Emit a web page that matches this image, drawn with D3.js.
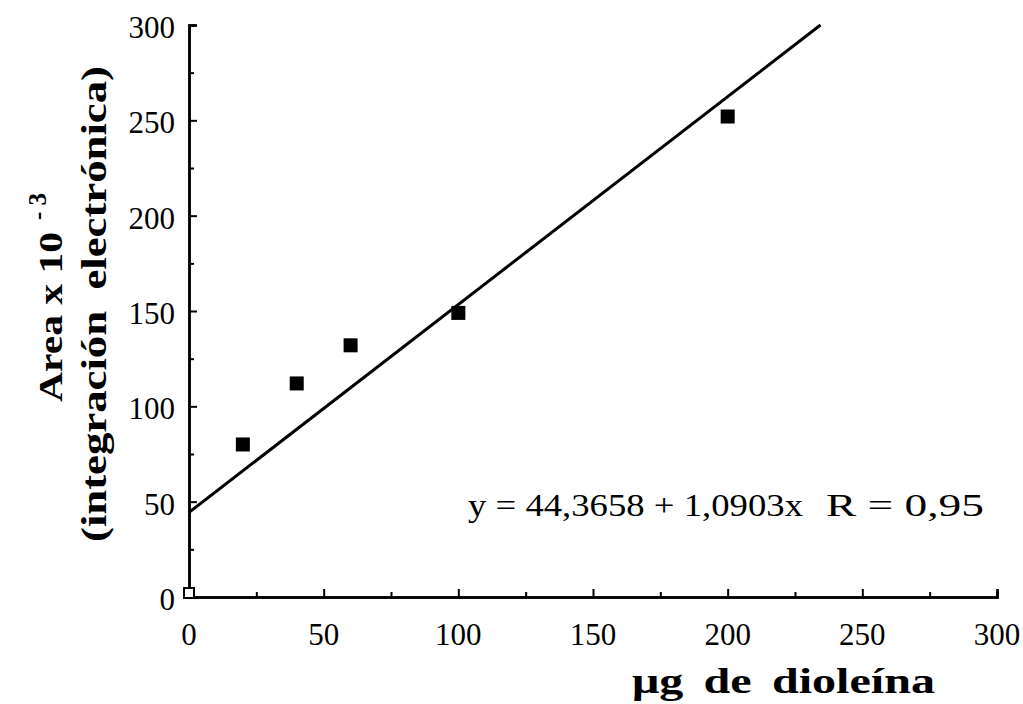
<!DOCTYPE html>
<html><head><meta charset="utf-8">
<script src="https://cdn.jsdelivr.net/npm/d3@7"></script>
<style>body{margin:0;background:#fff}svg{display:block}</style>
</head><body>
<svg id="c" width="1023" height="704"></svg>
<script>
const xData = [20, 40, 60, 100, 200];
const yData = [80, 112, 132, 149, 252];
const originPoint = [0, 0];
const intercept = 44.3658, slope = 1.0903;
const majorTicks = [0, 50, 100, 150, 200, 250, 300];
const minorTicks = [25, 75, 125, 175, 225, 275];
const eqText = "y = 44,3658 + 1,0903x";
const rText = "R = 0,95";

const svg = d3.select("#c");
const font = "'Liberation Serif','Times New Roman',serif";
const x = d3.scaleLinear().domain([0, 300]).range([189, 997]);
const y = d3.scaleLinear().domain([0, 300]).range([597, 25]);

// axes
const gx = svg.append("g").attr("transform", `translate(0,${y(0)})`);
gx.call(d3.axisTop(x).tickValues(majorTicks).tickSize(8).tickFormat(""));
gx.append("g").call(d3.axisTop(x).tickValues(minorTicks).tickSize(5).tickFormat(""));
gx.selectAll("path.domain").attr("stroke-width", 2.5);
gx.selectAll(".tick line").attr("stroke-width", 2);
majorTicks.forEach(v => {
  svg.append("text").attr("x", x(v)).attr("y", 645).attr("text-anchor", "middle")
    .attr("font-family", font).attr("font-size", 31).text(v);
});

const gy = svg.append("g").attr("transform", `translate(${x(0)},0)`);
gy.call(d3.axisRight(y).tickValues(majorTicks).tickSize(8).tickFormat(""));
gy.append("g").call(d3.axisRight(y).tickValues(minorTicks).tickSize(5).tickFormat(""));
gy.selectAll("path.domain").attr("stroke-width", 2.5);
gy.selectAll(".tick line").attr("stroke-width", 2);
majorTicks.forEach(v => {
  svg.append("text").attr("x", 175).attr("y", y(v) + 13).attr("text-anchor", "end")
    .attr("font-family", font).attr("font-size", 31).text(v);
});

// regression line
const xEnd = (300 - intercept) / slope;
svg.append("line")
  .attr("x1", x(0)).attr("y1", y(intercept))
  .attr("x2", x(xEnd)).attr("y2", y(intercept + slope * xEnd))
  .attr("stroke", "#000").attr("stroke-width", 3);

// points
const s = 14;
svg.selectAll("rect.pt").data(xData.map((d, i) => [d, yData[i]])).enter()
  .append("rect").attr("class", "pt")
  .attr("x", d => x(d[0]) - s / 2).attr("y", d => y(d[1]) - s / 2)
  .attr("width", s).attr("height", s).attr("fill", "#000");
svg.append("rect")
  .attr("x", x(originPoint[0]) - 5).attr("y", y(originPoint[1]) - 9)
  .attr("width", 10).attr("height", 10)
  .attr("fill", "#fff").attr("stroke", "#000").attr("stroke-width", 2);

// equation
svg.append("text").attr("x", 468).attr("y", 516).attr("font-family", font)
  .attr("font-size", 32).attr("textLength", 335).attr("lengthAdjust", "spacingAndGlyphs")
  .text(eqText);
svg.append("text").attr("x", 826).attr("y", 516).attr("font-family", font)
  .attr("font-size", 32).attr("textLength", 158).attr("lengthAdjust", "spacingAndGlyphs")
  .text(rText);

// x title
svg.append("text").attr("x", 632).attr("y", 693)
  .attr("font-family", font).attr("font-size", 35).attr("font-weight", "bold")
  .attr("word-spacing", 6).attr("textLength", 303).attr("lengthAdjust", "spacingAndGlyphs")
  .text("μg de dioleína");

// y title
svg.append("text").attr("transform", "translate(62,402) rotate(-90)")
  .attr("font-family", font).attr("font-size", 34).attr("font-weight", "bold")
  .attr("textLength", 170).attr("lengthAdjust", "spacingAndGlyphs").text("Area x 10");
svg.append("text").attr("transform", "translate(46,220) rotate(-90)")
  .attr("font-family", font).attr("font-size", 25).attr("font-weight", "bold")
  .attr("xml:space", "preserve").style("white-space", "pre").text("- 3");
svg.append("text").attr("transform", "translate(106,542) rotate(-90)")
  .attr("font-family", font).attr("font-size", 35).attr("font-weight", "bold")
  .attr("word-spacing", 8).attr("textLength", 476).attr("lengthAdjust", "spacingAndGlyphs")
  .text("(integración electrónica)");
</script>
</body></html>
